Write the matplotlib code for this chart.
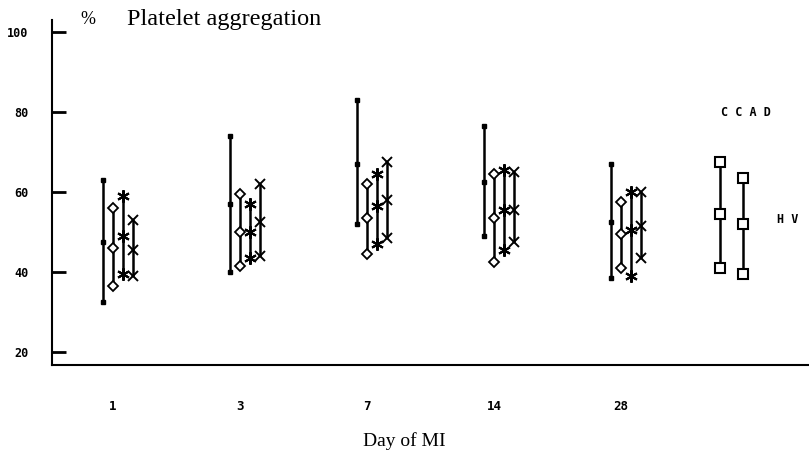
import numpy as np
import matplotlib
matplotlib.use("Agg")
from matplotlib import pyplot as plt

days = ["1", "3", "7", "14", "28"]

# low / mid / high per day, platelet aggregation %
dot_lo = [32.5, 40.0, 52.0, 49.0, 38.5]
dot_mid = [47.5, 57.0, 67.0, 62.5, 52.5]
dot_hi = [63.0, 74.0, 83.0, 76.5, 67.0]

dia_lo = [36.5, 41.5, 44.5, 42.5, 41.0]
dia_mid = [46.0, 50.0, 53.5, 53.5, 49.5]
dia_hi = [56.0, 59.5, 62.0, 64.5, 57.5]

star_lo = [39.5, 43.5, 47.0, 45.5, 39.0]
star_mid = [49.0, 50.0, 56.5, 55.5, 50.5]
star_hi = [59.0, 57.0, 64.5, 65.5, 60.0]

x_lo = [39.0, 44.0, 48.5, 47.5, 43.5]
x_mid = [45.5, 52.5, 58.0, 55.5, 51.5]
x_hi = [53.0, 62.0, 67.5, 65.0, 60.0]

ccad = [41.0, 54.5, 67.5]
hv = [39.5, 52.0, 63.5]

fig = plt.figure(figsize=(8.09, 4.62), dpi=100)
ax = fig.add_axes([52 / 809, 1 - 365 / 462, 1 - 52 / 809, (365 - 20) / 462])

step = 127.0  # pixels between day labels
idx = np.arange(len(days))
series = [
    (dot_lo, dot_mid, dot_hi, -0.08, dict(marker='s', ms=3, mfc='black')),
    (dia_lo, dia_mid, dia_hi, 0.0, dict(marker='D', ms=5, mfc='white', mew=1.3)),
    (star_lo, star_mid, star_hi, 0.08, dict(marker=(6, 2, 0), ms=9, mew=1.5)),
    (x_lo, x_mid, x_hi, 0.16, dict(marker='x', ms=7, mew=1.4)),
]
for lo, mid, hi, off, style in series:
    xs = idx + off
    ax.vlines(xs, lo, hi, color='black', lw=1.8)
    for vals in (lo, mid, hi):
        ax.plot(xs, vals, ls='none', color='black', mec='black', **style)

# controls
for vals, xpos in ((ccad, 4.78), (hv, 4.96)):
    ax.vlines(xpos, vals[0], vals[-1], color='black', lw=1.8)
    ax.plot([xpos] * 3, vals, ls='none', marker='s', ms=7, mfc='white', mec='black', mew=1.5)

mono = dict(family='DejaVu Sans Mono', weight='bold')
ax.text(4.98, 80, "C C A D", ha='center', va='center', fontsize=8.5, **mono)
ax.text(5.31, 53, "H V", ha='center', va='center', fontsize=8.5, **mono)

ax.set_xlim((52 - 113) / step, (809 - 113) / step)
ax.set_ylim(16.75, 103)

ax.spines['top'].set_visible(False)
ax.spines['right'].set_visible(False)
ax.spines['left'].set_linewidth(1.5)
ax.spines['bottom'].set_linewidth(1.5)

ax.set_yticks([20, 40, 60, 80, 100])
ax.set_yticklabels(["20", "40", "60", "80", "100"], fontsize=8.5, **mono)
ax.tick_params(axis='y', direction='in', length=10, width=2, pad=17)
ax.set_xticks(idx)
ax.set_xticklabels(days, fontsize=9, **mono)
ax.tick_params(axis='x', length=0, pad=25)

fig.text(80 / 809, 1 - 20 / 462, "%", fontsize=13, family='Liberation Serif', va='center')
fig.text(127 / 809, 1 - 20 / 462, "Platelet aggregation", fontsize=17.5,
         family='Liberation Serif', va='center')
fig.text(404 / 809, 1 - 441 / 462, "Day of MI", fontsize=14,
         family='Liberation Serif', ha='center', va='center')

fig.savefig("out.png", dpi=100)
